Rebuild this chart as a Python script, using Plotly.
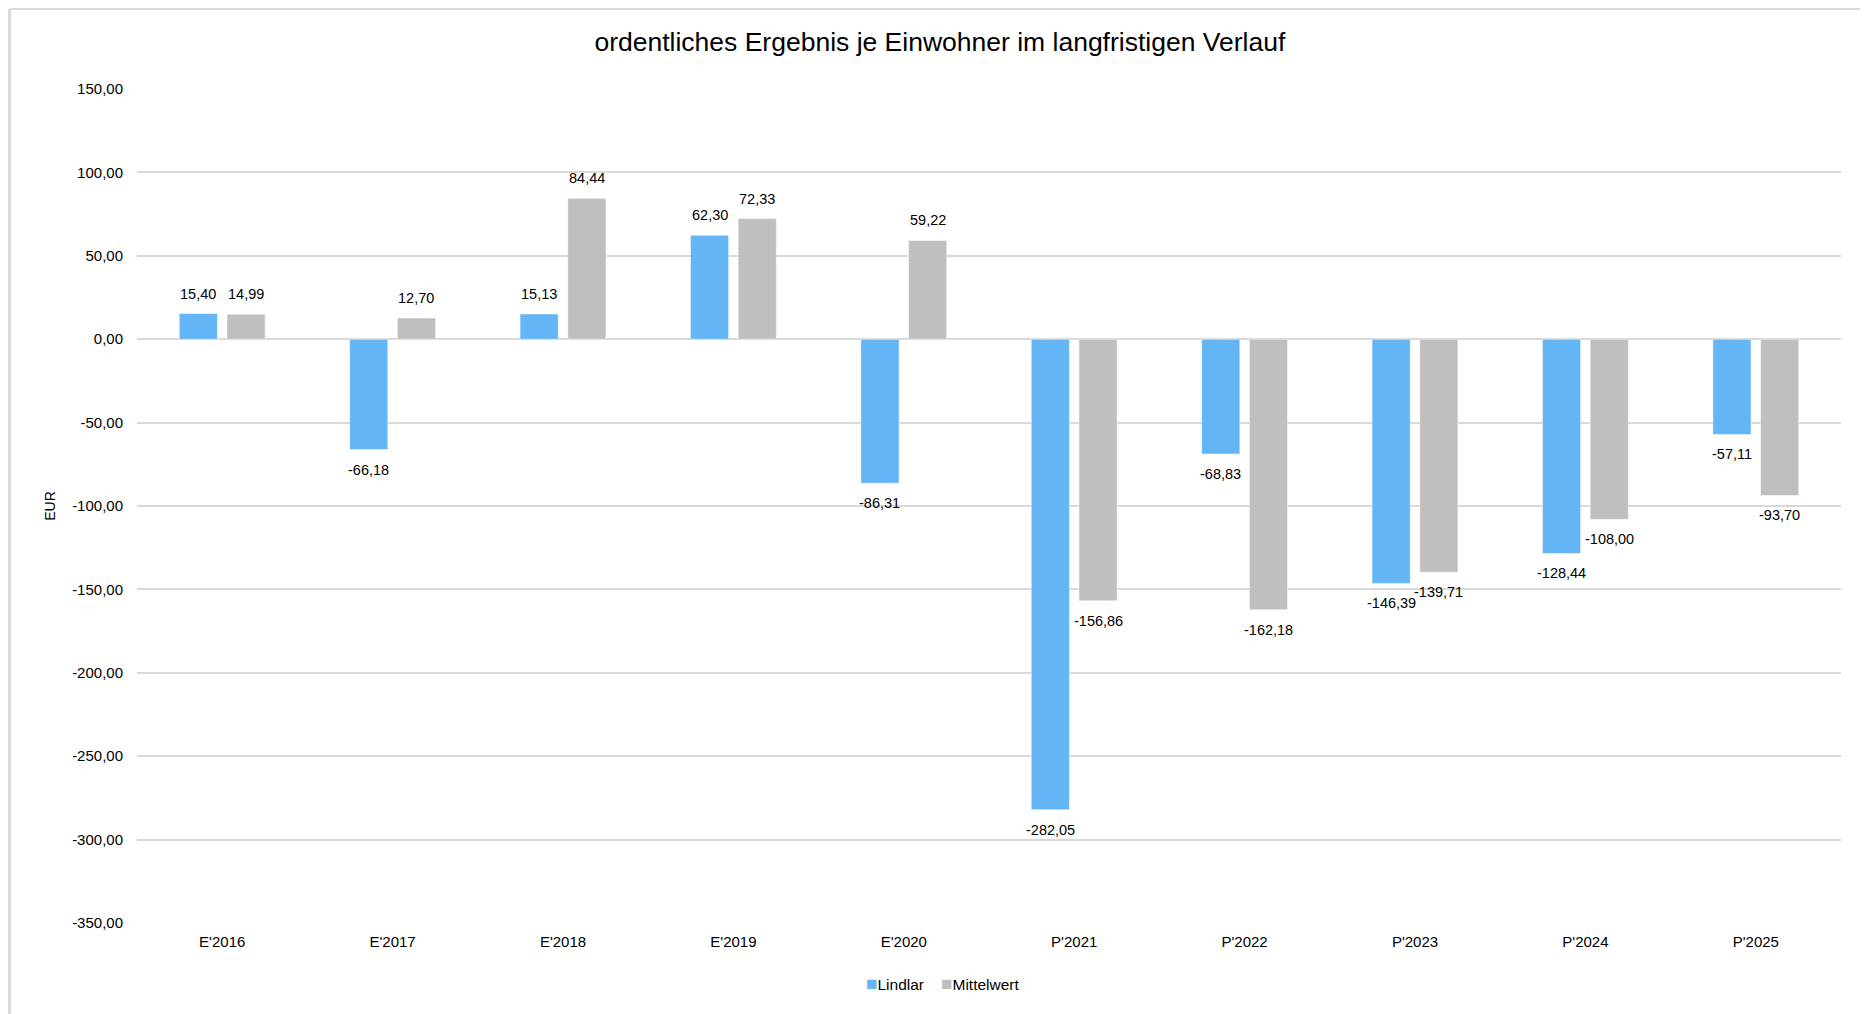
import plotly.graph_objects as go

# Daten aus dem Diagramm
jahre = ["E'2016", "E'2017", "E'2018", "E'2019", "E'2020",
         "P'2021", "P'2022", "P'2023", "P'2024", "P'2025"]
lindlar = [15.40, -66.18, 15.13, 62.30, -86.31, -282.05, -68.83, -146.39, -128.44, -57.11]
mittelwert = [14.99, 12.70, 84.44, 72.33, 59.22, -156.86, -162.18, -139.71, -108.00, -93.70]
y_ticks = [-350, -300, -250, -200, -150, -100, -50, 0, 50, 100, 150]

farbe_lindlar = '#63B5F5'
farbe_mittel = '#BFBFBF'
schrift = "Liberation Sans, Arial, sans-serif"


def de(v):
    # deutsches Zahlenformat mit Bindestrich als Minus
    return f"{v:.2f}".replace('.', ',')


# Seite hat 8px Rand im Browser -> Figur etwas kleiner
breite, hoehe = 1860, 1006
rand = dict(l=129, r=27, t=81, b=91)
bargap = 0.44
plot_w = breite - rand['l'] - rand['r']
versatz = (1 - bargap) * plot_w / len(jahre) / 4

fig = go.Figure()
fig.add_trace(go.Bar(x=jahre, y=lindlar, name='Lindlar', showlegend=False,
                     marker=dict(color=farbe_lindlar, line=dict(color='#FFFFFF', width=0.5))))
fig.add_trace(go.Bar(x=jahre, y=mittelwert, name='Mittelwert', showlegend=False,
                     marker=dict(color=farbe_mittel, line=dict(color='#FFFFFF', width=0.5))))

# Datenbeschriftungen
for werte, dx in [(lindlar, -versatz), (mittelwert, versatz)]:
    for j, v in zip(jahre, werte):
        fig.add_annotation(x=j, y=v, text=de(v), showarrow=False,
                           xshift=dx, yshift=20 if v >= 0 else -20,
                           font=dict(size=14.5, color='#000000'))

# Legende nachgebaut
quadrat = '<span style="color:{};font-size:19px">■</span>'
fig.add_annotation(xref='paper', yref='paper', x=0.4265, y=-0.0720,
                   xanchor='left', yanchor='middle',
                   showarrow=False, font=dict(size=15.5),
                   text=quadrat.format(farbe_lindlar) + 'Lindlar')
fig.add_annotation(xref='paper', yref='paper', x=0.4705, y=-0.0720,
                   xanchor='left', yanchor='middle',
                   showarrow=False, font=dict(size=15.5),
                   text=quadrat.format(farbe_mittel) + 'Mittelwert')

fig.update_layout(
    title=dict(text='ordentliches Ergebnis je Einwohner im langfristigen Verlauf',
               x=0.501, xanchor='center', y=0.966, yanchor='middle',
               font=dict(size=26.5, color='#000000', family=schrift)),
    width=breite, height=hoehe,
    margin=rand,
    paper_bgcolor='white', plot_bgcolor='white',
    font=dict(family=schrift, size=15, color='#000000'),
    barmode='group', bargap=bargap, bargroupgap=0.2,
    showlegend=False,
)
fig.update_yaxes(range=[-350, 150], tickvals=y_ticks, ticktext=[de(v) for v in y_ticks],
                 gridcolor='#D9D9D9', gridwidth=2,
                 zeroline=True, zerolinecolor='#D9D9D9', zerolinewidth=2,
                 showline=False, ticks='', ticklabelstandoff=13, automargin=False,
                 title=dict(text='EUR', font=dict(size=14), standoff=13))
fig.update_xaxes(showline=False, ticks='', showgrid=False, ticklabelstandoff=8,
                 tickfont=dict(size=15), automargin=False)

# Rahmen des Diagrammbereichs (links und oben sichtbar)
fig.add_shape(type='line', xref='paper', yref='paper',
              x0=-0.0748, x1=1.2, y0=1.096, y1=1.096,
              line=dict(color='#D9D9D9', width=2))
fig.add_shape(type='line', xref='paper', yref='paper',
              x0=-0.0748, x1=-0.0748, y0=1.096, y1=-0.2,
              line=dict(color='#D9D9D9', width=3))

fig.write_html("out.html")
